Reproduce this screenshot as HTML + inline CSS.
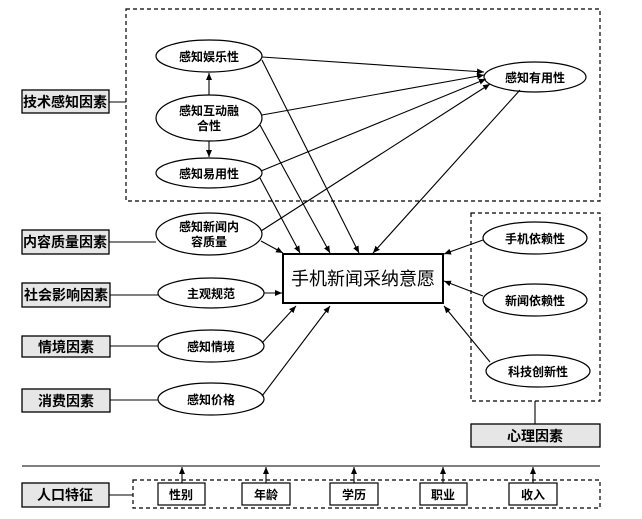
<!DOCTYPE html>
<html><head><meta charset="utf-8"><style>
body{margin:0;background:#fff}
svg text{font-family:"Liberation Sans","Noto Sans CJK SC",sans-serif;}
</style></head><body>
<svg width="642" height="514" viewBox="0 0 642 514" xmlns="http://www.w3.org/2000/svg">
<defs><marker id="a" markerWidth="8" markerHeight="8" refX="7" refY="3" orient="auto" markerUnits="userSpaceOnUse"><path d="M0,0 L7,3 L0,6 z" fill="#000"/></marker></defs>
<g fill="none" stroke="#000" stroke-width="1.2" stroke-dasharray="4,3">
<rect x="126" y="9" width="474" height="192"/>
<rect x="471" y="213" width="129" height="188"/>
<rect x="133" y="480" width="467" height="28"/>
</g>
<g stroke="#000" stroke-width="1.3" fill="#e6e6e6">
<rect x="22" y="90" width="87" height="23"/>
<rect x="22" y="230" width="87" height="24"/>
<rect x="22" y="283" width="88" height="24"/>
<rect x="22" y="336" width="88" height="21"/>
<rect x="22" y="389" width="88" height="23"/>
<rect x="471" y="424" width="129" height="23"/>
<rect x="22" y="483" width="87" height="24"/>
</g>
<g stroke="#000" stroke-width="1.2" fill="#fff">
<rect x="158" y="483" width="47" height="22"/>
<rect x="242" y="483" width="48" height="22"/>
<rect x="330" y="483" width="48" height="22"/>
<rect x="420" y="483" width="47" height="22"/>
<rect x="509" y="483" width="48" height="22"/>
<rect x="283" y="254" width="160" height="49" stroke-width="2"/>
<ellipse cx="209" cy="56" rx="53" ry="16"/>
<ellipse cx="209" cy="118" rx="53" ry="23"/>
<ellipse cx="209" cy="173" rx="53" ry="15"/>
<ellipse cx="209" cy="234" rx="53" ry="21"/>
<ellipse cx="211" cy="293" rx="53" ry="15"/>
<ellipse cx="211" cy="346" rx="53" ry="16"/>
<ellipse cx="211" cy="399" rx="53" ry="16"/>
<ellipse cx="535" cy="77" rx="51" ry="15"/>
<ellipse cx="535" cy="238" rx="52" ry="16"/>
<ellipse cx="535" cy="300" rx="52" ry="16"/>
<ellipse cx="538" cy="371" rx="52" ry="16"/>
</g>
<g stroke="#000" stroke-width="1.1" fill="none">
<line x1="109" y1="102" x2="126" y2="102"/>
<line x1="109" y1="242" x2="156" y2="242"/>
<line x1="110" y1="295" x2="158" y2="295"/>
<line x1="110" y1="346" x2="158" y2="346"/>
<line x1="110" y1="400" x2="158" y2="400"/>
<line x1="109" y1="495" x2="133" y2="495"/>
<line x1="535" y1="401" x2="535" y2="424"/>
<line x1="22" y1="466" x2="600" y2="466"/>
</g>
<g stroke="#000" stroke-width="1.1" fill="none" marker-end="url(#a)">
<line x1="209" y1="95" x2="209" y2="73"/>
<line x1="209" y1="141" x2="209" y2="157"/>
<line x1="262" y1="57" x2="484" y2="72"/>
<line x1="262" y1="115" x2="484" y2="75"/>
<line x1="261" y1="171" x2="486" y2="79"/>
<line x1="261" y1="231" x2="490" y2="84"/>
<line x1="520" y1="90" x2="373" y2="253"/>
<line x1="262" y1="60" x2="359" y2="253"/>
<line x1="260" y1="125" x2="330" y2="253"/>
<line x1="260" y1="178" x2="300" y2="253"/>
<line x1="261" y1="241" x2="283" y2="253"/>
<line x1="264" y1="293" x2="282" y2="293"/>
<line x1="262" y1="343" x2="296" y2="306"/>
<line x1="262" y1="396" x2="330" y2="306"/>
<line x1="483" y1="240" x2="444" y2="254"/>
<line x1="483" y1="296" x2="444" y2="281"/>
<line x1="490" y1="362" x2="444" y2="306"/>
<line x1="182" y1="483" x2="182" y2="467"/>
<line x1="266" y1="483" x2="266" y2="467"/>
<line x1="354" y1="483" x2="354" y2="467"/>
<line x1="443" y1="483" x2="443" y2="467"/>
<line x1="533" y1="483" x2="533" y2="467"/>
</g>
<g font-size="14" font-weight="bold" text-anchor="middle">
<text x="65" y="107">技术感知因素</text>
<text x="65" y="247">内容质量因素</text>
<text x="66" y="300">社会影响因素</text>
<text x="66" y="352">情境因素</text>
<text x="66" y="406">消费因素</text>
<text x="535" y="441">心理因素</text>
<text x="65" y="500">人口特征</text>
</g>
<g font-size="12" font-weight="bold" text-anchor="middle">
<text x="209" y="61">感知娱乐性</text>
<text x="209" y="115">感知互动融</text>
<text x="209" y="130">合性</text>
<text x="209" y="178">感知易用性</text>
<text x="209" y="231">感知新闻内</text>
<text x="209" y="246">容质量</text>
<text x="211" y="298">主观规范</text>
<text x="211" y="351">感知情境</text>
<text x="211" y="404">感知价格</text>
<text x="535" y="82">感知有用性</text>
<text x="535" y="243">手机依赖性</text>
<text x="535" y="305">新闻依赖性</text>
<text x="538" y="376">科技创新性</text>
<text x="181" y="499">性别</text>
<text x="266" y="499">年龄</text>
<text x="354" y="499">学历</text>
<text x="443" y="499">职业</text>
<text x="533" y="499">收入</text>
</g>
<text x="363" y="285" font-size="18" text-anchor="middle">手机新闻采纳意愿</text>
</svg>
</body></html>
